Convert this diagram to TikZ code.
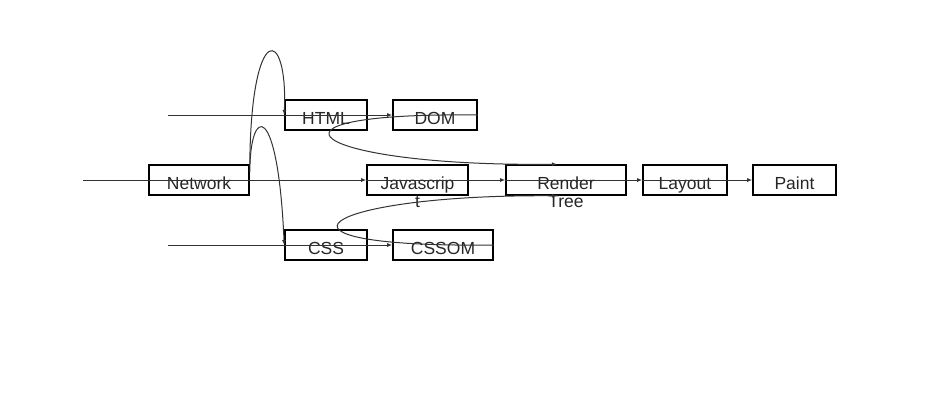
\documentclass[tikz,border=0pt]{standalone}
\usepackage{fontspec}
\setmainfont{Liberation Sans}
\usetikzlibrary{arrows.meta}
\begin{document}
\begin{tikzpicture}[x=1pt,y=-1pt,
  box/.style={draw=black, line width=1.6pt, rectangle, inner sep=0pt, minimum height=30pt},
  lbl/.style={anchor=base, inner sep=0pt, font=\fontsize{17.5}{19}\selectfont, text=black!85},
  conn/.style={draw=black!80, line width=1pt, -{Latex[length=5pt,width=4pt]}}]
\useasboundingbox (0,0) rectangle (932,408);
% boxes
\node[box, minimum width=100pt] (net)   at (199,180)   {};
\node[box, minimum width=82pt]  (html)  at (326,115)   {};
\node[box, minimum width=82pt]  (css)   at (326,245)   {};
\node[box, minimum width=84pt]  (dom)   at (435,115)   {};
\node[box, minimum width=100pt] (cssom) at (443,245)   {};
\node[box, minimum width=101pt] (js)    at (417.5,180) {};
\node[box, minimum width=120pt] (rt)    at (566,180)   {};
\node[box, minimum width=84pt]  (lay)   at (685,180)   {};
\node[box, minimum width=83pt]  (paint) at (794.5,180) {};
% labels
\node[lbl] (tnet)   at (199,189)   {Network};
\node[lbl] (thtml)  at (326,124)   {HTML};
\node[lbl] (tcss)   at (326,254)   {CSS};
\node[lbl] (tdom)   at (435,124)   {DOM};
\node[lbl] (tcssom) at (443,254)   {CSSOM};
\node[lbl] (tjs1)   at (417.5,189) {Javascrip};
\node[lbl] (tjs2)   at (417.5,207) {t};
\node[lbl] (trt1)   at (566,189)   {Render};
\node[lbl] (trt2)   at (566,207)   {Tree};
\node[lbl] (tlay)   at (685,189)   {Layout};
\node[lbl] (tpaint) at (794.5,189) {Paint};
% free ends
\coordinate (inN) at (83,180);
\coordinate (inH) at (168,115);
\coordinate (inC) at (168,245);
% straight connectors
\draw[conn] (inN) -- (js.west);
\draw[conn] (js.west) -- (rt.west);
\draw[conn] (rt.west) -- (lay.west);
\draw[conn] (lay.west) -- (paint.west);
\draw[conn] (inH) -- (dom.west);
\draw[conn] (inC) -- (cssom.west);
% arcs from Network
\draw[conn] (net.north east) .. controls (251,20) and (288,26) .. (html.west);
\draw[conn] ([yshift=8pt]net.east) .. controls (250,105) and (278,100) .. (css.west);
% curves into Render Tree
\draw[conn] (dom.east) .. controls (235,112) and (310,167) .. ([xshift=-9pt]rt.north);
\draw[conn] (cssom.east) .. controls (240,248) and (320,194) .. ([xshift=-9pt]rt.south);
\end{tikzpicture}
\end{document}
